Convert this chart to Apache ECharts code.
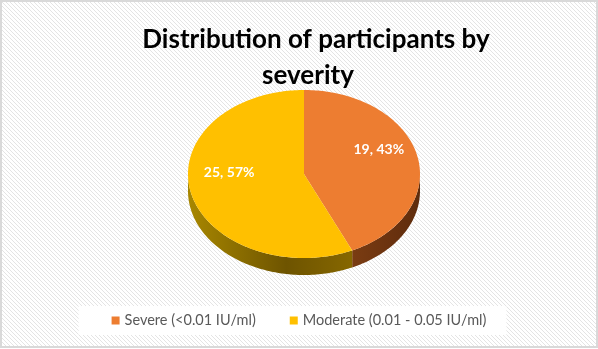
<!DOCTYPE html>
<html>
<head>
<meta charset="utf-8">
<script src="https://cdn.jsdelivr.net/npm/echarts@6/dist/echarts.min.js"></script>
<style>
html, body { margin: 0; padding: 0; background: #fff; }
#chart { width: 598px; height: 349px; }
</style>
</head>
<body>
<div id="chart"></div>
<script>
// data
var titleLines = ['Distribution of participants by', 'severity'];
var categories = ['Severe (<0.01 IU/ml)', 'Moderate (0.01 - 0.05 IU/ml)'];
var counts = [19, 25];
var percents = [43, 57];
var colors = ['#ED7D31', '#FFC000'];
var sideColors = [['#7a3c12', '#6a320f', '#5e2c0c'], ['#a88700', '#6e5400', '#866700']];

// pie layout (tilted 3D look)
var cx = 304, cy = 174, rx = 116, ry = 84, depth = 17;
var total = counts.reduce(function (a, b) { return a + b; }, 0);

function angleAt(i) {
    var s = 0;
    for (var k = 0; k < i; k++) s += counts[k];
    return s / total * Math.PI * 2;
}

function pt(t, dy) {
    return [cx + rx * Math.sin(t), cy - ry * Math.cos(t) + (dy || 0)];
}

function arc(a, b, dy) {
    var pts = [];
    var n = Math.max(2, Math.ceil(Math.abs(b - a) / 0.02));
    for (var j = 0; j <= n; j++) pts.push(pt(a + (b - a) * j / n, dy));
    return pts;
}

function hatchTile() {
    var c = document.createElement('canvas');
    c.width = 4; c.height = 4;
    var ctx = c.getContext('2d');
    ctx.fillStyle = '#fff';
    ctx.fillRect(0, 0, 4, 4);
    ctx.fillStyle = '#e4e4e4';
    for (var i = 0; i < 4; i++) ctx.fillRect(i, i, 1, 1);
    return c;
}

function makeSeries(i) {
    return {
        name: categories[i],
        type: 'custom',
        coordinateSystem: 'none',
        itemStyle: { color: colors[i] },
        data: [[counts[i]]],
        renderItem: function (params, api) {
            var a0 = angleAt(i), a1 = angleAt(i + 1);
            var children = [];
            // front wall
            var lo = Math.max(a0, Math.PI / 2), hi = Math.min(a1, Math.PI * 1.5);
            if (lo < hi) {
                var side = arc(lo, hi, 0).concat(arc(hi, lo, depth));
                var sc = sideColors[i];
                children.push({
                    type: 'polygon',
                    shape: { points: side },
                    style: {
                        fill: new echarts.graphic.LinearGradient(0, 0, 1, 0, [
                            { offset: 0, color: sc[0] },
                            { offset: 0.6, color: sc[1] },
                            { offset: 1, color: sc[2] }
                        ])
                    }
                });
            }
            // top face
            children.push({
                type: 'polygon',
                shape: { points: [[cx, cy]].concat(arc(a0, a1, 0)) },
                style: { fill: colors[i] }
            });
            // label
            var mid = (a0 + a1) / 2;
            var lp = [cx + rx * 0.66 * Math.sin(mid), cy - ry * 0.66 * Math.cos(mid) - 13];
            children.push({
                type: 'text',
                style: {
                    text: counts[i] + ', ' + percents[i] + '%',
                    x: lp[0], y: lp[1],
                    fill: '#fff',
                    fontSize: 14,
                    fontWeight: 'bold',
                    fontFamily: 'Lato',
                    align: 'center',
                    verticalAlign: 'middle'
                }
            });
            return { type: 'group', children: children };
        }
    };
}

var titleStyle = {
    fontFamily: 'Lato',
    fontSize: 26,
    fontWeight: 'bold',
    color: '#000'
};

var chart = echarts.init(document.getElementById('chart'));
var option = {
    animation: false,
    graphic: [{
        type: 'rect',
        z: -10,
        shape: { x: 1, y: 1, width: 596, height: 346 },
        style: { fill: { image: hatchTile(), repeat: 'repeat' }, stroke: '#d9d9d9', lineWidth: 2 }
    }],
    title: [
        { text: titleLines[0], left: 311, textAlign: 'center', top: 22, textStyle: titleStyle },
        { text: titleLines[1], left: 303, textAlign: 'center', top: 58, textStyle: titleStyle }
    ],
    legend: {
        data: categories,
        bottom: 14,
        icon: 'rect',
        itemWidth: 8,
        itemHeight: 8,
        itemGap: 34,
        backgroundColor: '#fff',
        padding: [7, 20, 7, 33],
        textStyle: { color: '#595959', fontSize: 14.5, fontFamily: 'Lato' }
    },
    series: [makeSeries(0), makeSeries(1)]
};
chart.setOption(option);
</script>
</body>
</html>
